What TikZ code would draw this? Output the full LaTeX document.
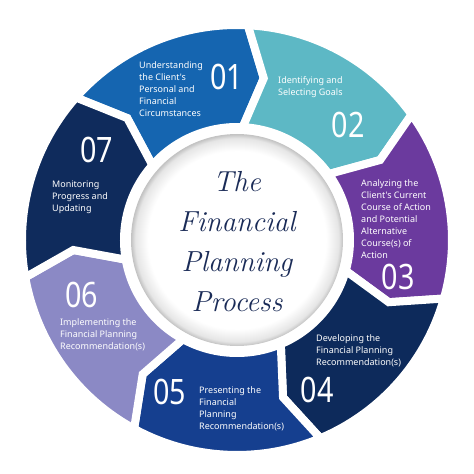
\documentclass[tikz,border=0pt]{standalone}
\usepackage{fontspec}
\newfontfamily\labelfont{Noto Sans}
\usetikzlibrary{positioning}

\definecolor{stepA}{HTML}{1565B0}
\definecolor{stepB}{HTML}{5DB8C5}
\definecolor{stepC}{HTML}{6B3A9E}
\definecolor{stepD}{HTML}{0D2A5B}
\definecolor{stepE}{HTML}{153F8F}
\definecolor{stepF}{HTML}{8B89C5}
\definecolor{stepG}{HTML}{0F2B5C}
\definecolor{titleblue}{HTML}{1A2B57}

\pgfdeclareradialshading{hubshade}{\pgfpoint{0bp}{0bp}}{color(0bp)=(white); color(21bp)=(white); color(24bp)=(black!10); color(25bp)=(black!24); color(50bp)=(black!24)}

\begin{document}
\begin{tikzpicture}[x=1pt, y=1pt,
  ringpart/.style={draw=white, line width=8pt, line join=miter},
  steptext/.style={anchor=west, align=left, text=white, font=\labelfont\fontsize{9}{12}\selectfont, inner sep=0pt},
  stepnum/.style={text=white, font=\labelfont\fontsize{35}{35}\selectfont, xscale=0.82, inner sep=0pt}]
\useasboundingbox (-237,-234) rectangle (237,240);
% ring of seven steps
\draw[ringpart, fill=stepA] (138.5:215) arc[start angle=138.5, end angle=87.1, radius=215] -- (80.6:164) -- (87.1:113) arc[start angle=87.1, end angle=138.5, radius=113] -- (132.0:164) -- cycle;
\draw[ringpart, fill=stepB] (87.1:215) arc[start angle=87.1, end angle=35.7, radius=215] -- (29.2:164) -- (35.7:113) arc[start angle=35.7, end angle=87.1, radius=113] -- (80.6:164) -- cycle;
\draw[ringpart, fill=stepC] (35.7:215) arc[start angle=35.7, end angle=-15.8, radius=215] -- (-22.3:164) -- (-15.8:113) arc[start angle=-15.8, end angle=35.7, radius=113] -- (29.2:164) -- cycle;
\draw[ringpart, fill=stepD] (-15.8:215) arc[start angle=-15.8, end angle=-67.2, radius=215] -- (-73.7:164) -- (-67.2:113) arc[start angle=-67.2, end angle=-15.8, radius=113] -- (-22.3:164) -- cycle;
\draw[ringpart, fill=stepE] (-67.2:215) arc[start angle=-67.2, end angle=-118.6, radius=215] -- (-125.1:164) -- (-118.6:113) arc[start angle=-118.6, end angle=-67.2, radius=113] -- (-73.7:164) -- cycle;
\draw[ringpart, fill=stepF] (-118.6:215) arc[start angle=-118.6, end angle=-170.0, radius=215] -- (-176.5:164) -- (-170.0:113) arc[start angle=-170.0, end angle=-118.6, radius=113] -- (-125.1:164) -- cycle;
\draw[ringpart, fill=stepG] (-170.0:215) arc[start angle=-170.0, end angle=-221.5, radius=215] -- (-228.0:164) -- (-221.5:113) arc[start angle=-221.5, end angle=-170.0, radius=113] -- (-176.5:164) -- cycle;
% centre
\node[circle, minimum size=212pt, inner sep=0pt, shading=hubshade] (hub) at (0,0) {};
\node[text=titleblue, align=center, font=\itshape\fontsize{29}{40}\selectfont] (title) at (0,-2) {The\\Financial\\Planning\\Process};
% labels
\node[steptext] (t1) at (-98,151) {Understanding\\the Client's\\Personal and\\Financial\\Circumstances};
\node[stepnum] (n1) at (-10,163) {01};
\node[steptext] (t2) at (41,153) {Identifying and\\Selecting Goals};
\node[stepnum] (n2) at (111,115) {02};
\node[steptext] (t3) at (124,21) {Analyzing the\\Client's Current\\Course of Action\\and Potential\\Alternative\\Course(s) of\\Action};
\node[stepnum] (n3) at (161,-37) {03};
\node[steptext] (t4) at (79,-111) {Developing the\\Financial Planning\\Recommendation(s)};
\node[stepnum] (n4) at (80,-150) {04};
\node[steptext] (t5) at (-38,-169) {Presenting the\\Financial\\Planning\\Recommendation(s)};
\node[stepnum] (n5) at (-67,-152) {05};
\node[steptext] (t6) at (-177,-95) {Implementing the\\Financial Planning\\Recommendation(s)};
\node[stepnum] (n6) at (-155,-55) {06};
\node[steptext] (t7) at (-185,43) {Monitoring\\Progress and\\Updating};
\node[stepnum] (n7) at (-140,90) {07};
\end{tikzpicture}
\end{document}
